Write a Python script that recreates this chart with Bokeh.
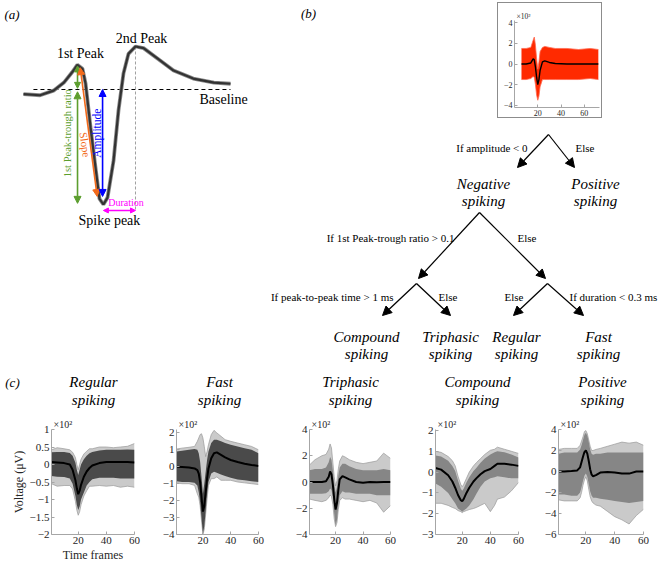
import math
from bokeh.plotting import figure
from bokeh.layouts import row, column
from bokeh.models import ColumnDataSource, Arrow, NormalHead, FixedTicker, Spacer, Range1d
from bokeh.core.properties import value
from bokeh.embed import file_html
from bokeh.resources import INLINE

SERIF = "Liberation Serif"

# ---------------- data ----------------
# (a) schematic spike waveform (time units, normalised voltage; trough = -1)
t_a = [0, 8, 14.5, 19.5, 23.5, 26, 28.5, 30, 32.4, 34.8, 36.7, 38.6, 40.6, 43.5,
       45.9, 48.3, 50.7, 54.1, 58, 64.7, 72.5, 82, 92, 100]
v_a = [-0.04, -0.05, -0.01, 0.06, 0.15, 0.215, 0.18, 0.05, -0.33, -0.68, -0.95, -1.0,
       -0.94, -0.62, -0.18, 0.14, 0.31, 0.374, 0.36, 0.27, 0.165, 0.095, 0.06, 0.05]
t_peak1, v_peak1 = 26.1, 0.215
t_trough, v_trough = 38.6, -1.0
t_peak2, v_peak2 = 54.1, 0.374

# (b) inset: all waveforms (x10^2 uV)
t_all = [6, 10, 14, 16, 17, 18, 19, 20, 21, 22, 24, 26, 30, 35, 45, 55, 65, 72]
m_all = [0.0, 0.0, 0.1, 0.5, 0.4, -0.3, -1.3, -2.0, -1.5, -0.6, 0.2, 0.3, 0.15, 0.05, 0.0, 0.0, 0.0, 0.0]
hi_all = [1.5, 1.5, 1.6, 2.3, 2.6, 1.8, 0.5, -0.5, 0.2, 1.2, 1.6, 1.7, 1.6, 1.5, 1.5, 1.4, 1.5, 1.4]
lo_all = [-1.5, -1.5, -1.4, -1.2, -1.3, -2.0, -3.0, -3.5, -3.1, -2.2, -1.5, -1.5, -1.5, -1.5, -1.5, -1.5, -1.4, -1.5]

# (c) class waveforms (x10^2 uV): mean, dense band, sparse outer traces
t_reg = [1, 5, 10, 14, 16, 18, 19, 20, 21, 22, 24, 26, 28, 30, 35, 40, 45, 50, 55, 60]
m_reg = [0.07, 0.06, 0.04, 0.0, -0.15, -0.45, -0.68, -0.85, -0.75, -0.58, -0.35, -0.2, -0.1, -0.03, 0.04, 0.07, 0.07, 0.07, 0.07, 0.06]
hi_reg = [0.35, 0.36, 0.36, 0.33, 0.25, 0.05, -0.15, -0.3, -0.15, 0.0, 0.15, 0.25, 0.32, 0.36, 0.4, 0.42, 0.42, 0.42, 0.43, 0.42]
lo_reg = [-0.33, -0.35, -0.36, -0.4, -0.55, -0.9, -1.15, -1.3, -1.2, -1.0, -0.8, -0.6, -0.5, -0.42, -0.38, -0.38, -0.38, -0.4, -0.4, -0.4]
ohi_reg = [0.42, 0.48, 0.45, 0.42, 0.35, 0.2, 0.0, -0.15, 0.0, 0.15, 0.3, 0.38, 0.45, 0.45, 0.5, 0.5, 0.48, 0.5, 0.52, 0.6]
olo_reg = [-0.55, -0.62, -0.6, -0.6, -0.7, -1.05, -1.3, -1.45, -1.35, -1.15, -0.9, -0.75, -0.62, -0.62, -0.6, -0.62, -0.6, -0.65, -0.62, -0.65]

t_fast = [1, 5, 10, 14, 16, 17, 18, 19, 20, 21, 22, 23, 24, 26, 28, 30, 33, 36, 40, 45, 50, 55, 60]
m_fast = [0.0, -0.02, -0.05, -0.1, -0.2, -0.4, -0.9, -1.8, -2.65, -2.3, -1.5, -0.7, -0.1, 0.5, 0.8, 0.85, 0.7, 0.55, 0.4, 0.28, 0.18, 0.1, 0.05]
hi_fast = [0.9, 0.95, 1.0, 1.05, 1.0, 0.8, 0.3, -0.6, -1.6, -1.0, -0.3, 0.4, 0.9, 1.4, 1.6, 1.6, 1.5, 1.4, 1.3, 1.2, 1.1, 1.0, 0.8]
lo_fast = [-0.85, -0.9, -0.9, -0.95, -1.1, -1.5, -2.1, -3.0, -3.95, -3.5, -2.6, -1.6, -0.9, -0.4, -0.3, -0.35, -0.45, -0.55, -0.65, -0.75, -0.8, -0.85, -0.9]
ohi_fast = [1.05, 1.1, 1.15, 1.2, 1.5, 1.7, 1.9, 1.95, 1.7, 1.2, 0.6, 0.9, 1.3, 1.9, 2.15, 2.0, 1.8, 1.6, 1.5, 1.4, 1.3, 1.2, 1.0]
olo_fast = [-0.95, -1.0, -1.0, -1.1, -1.6, -1.8, -2.3, -3.2, -4.0, -3.7, -2.8, -1.9, -1.1, -0.7, -0.7, -0.6, -0.8, -0.8, -0.8, -0.9, -0.95, -1.0, -1.05]

t_tri = [1, 5, 10, 13, 15, 16, 17, 18, 19, 20, 21, 22, 23, 25, 27, 30, 35, 40, 45, 50, 55, 60]
m_tri = [0.0, 0.0, 0.0, 0.05, 0.4, 0.8, 0.6, -0.2, -1.3, -2.1, -1.6, -0.6, 0.2, 0.45, 0.35, 0.2, 0.0, -0.05, 0.0, -0.02, 0.0, 0.0]
hi_tri = [0.9, 1.0, 1.0, 1.1, 1.5, 1.9, 1.7, 0.9, -0.1, -0.8, -0.4, 0.5, 1.1, 1.4, 1.4, 1.2, 1.0, 0.9, 0.9, 0.9, 1.0, 0.9]
lo_tri = [-0.9, -0.9, -0.9, -0.85, -0.7, -0.5, -0.6, -1.2, -2.4, -3.3, -2.9, -1.8, -1.0, -0.7, -0.8, -0.8, -0.9, -0.9, -0.9, -1.0, -1.0, -1.0]
ohi_tri = [1.3, 1.7, 2.0, 2.1, 2.5, 2.9, 2.6, 1.5, 0.4, -0.3, 0.1, 1.0, 1.6, 2.0, 1.9, 1.7, 1.5, 1.4, 1.5, 1.6, 2.2, 1.8]
olo_tri = [-1.3, -1.4, -1.5, -1.4, -1.2, -1.0, -1.1, -1.7, -2.8, -3.4, -3.1, -2.1, -1.4, -1.2, -1.3, -1.3, -1.4, -1.5, -1.4, -1.6, -2.3, -1.8]

t_comp = [1, 5, 10, 13, 15, 17, 19, 20, 21, 23, 25, 28, 30, 33, 36, 40, 43, 45, 50, 55, 60]
m_comp = [0.2, 0.12, -0.15, -0.45, -0.75, -1.1, -1.35, -1.4, -1.3, -1.0, -0.75, -0.45, -0.3, -0.1, 0.05, 0.15, 0.3, 0.4, 0.4, 0.36, 0.3]
hi_comp = [0.8, 0.75, 0.55, 0.3, 0.05, -0.4, -0.8, -0.9, -0.8, -0.5, -0.25, 0.05, 0.2, 0.45, 0.65, 0.85, 0.95, 1.0, 0.95, 0.85, 0.7]
lo_comp = [-0.55, -0.7, -1.0, -1.3, -1.5, -1.75, -1.85, -1.9, -1.85, -1.75, -1.6, -1.3, -1.05, -0.7, -0.45, -0.3, -0.25, -0.2, -0.25, -0.3, -0.3]
ohi_comp = [1.0, 0.95, 0.75, 0.55, 0.3, -0.2, -0.6, -0.7, -0.6, -0.3, 0.0, 0.3, 0.45, 0.65, 0.85, 1.05, 1.1, 1.2, 1.1, 1.0, 0.9]
olo_comp = [-1.5, -1.5, -1.6, -1.7, -1.75, -1.85, -1.9, -1.95, -1.9, -1.85, -1.8, -1.75, -1.7, -1.6, -1.5, -1.9, -1.6, -1.3, -1.2, -0.9, -0.5]

t_pos = [1, 5, 10, 14, 16, 17, 18, 19, 20, 21, 22, 23, 24, 25, 27, 30, 35, 40, 45, 50, 55, 60]
m_pos = [0.0, 0.0, 0.05, 0.1, 0.4, 0.9, 1.4, 1.85, 2.0, 1.7, 1.0, 0.2, -0.3, -0.45, -0.35, -0.1, -0.05, -0.1, -0.2, -0.2, 0.0, 0.0]
hi_pos = [1.7, 1.8, 1.8, 1.8, 2.1, 2.5, 3.0, 3.5, 3.7, 3.4, 2.8, 2.1, 1.7, 1.6, 1.7, 1.7, 1.8, 1.8, 1.8, 1.8, 1.8, 1.8]
lo_pos = [-2.2, -2.2, -2.3, -2.3, -2.0, -1.5, -0.9, -0.4, -0.2, -0.5, -1.2, -1.9, -2.3, -2.5, -2.5, -2.6, -2.7, -2.8, -2.9, -3.0, -2.9, -2.8]
ohi_pos = [2.1, 2.2, 2.2, 2.2, 2.5, 2.9, 3.3, 3.8, 3.9, 3.6, 3.0, 2.4, 2.0, 2.0, 2.1, 2.2, 2.4, 2.6, 2.8, 2.7, 2.8, 2.5]
olo_pos = [-2.7, -2.8, -2.8, -2.8, -2.5, -2.0, -1.3, -0.8, -0.5, -0.9, -1.7, -2.4, -2.8, -3.0, -3.2, -3.3, -3.8, -4.3, -4.6, -5.0, -4.2, -3.6]

x_ticks = [20, 40, 60]
class_names = ["Regular", "Fast", "Triphasic", "Compound", "Positive"]

# decision tree (diagram coordinates)
tree_edges = dict(
    x0=[548, 548, 479, 479, 416, 416, 547, 547],
    y0=[134, 134, 212, 212, 283, 283, 283, 283],
    x1=[517, 574, 418, 545, 382, 450, 513, 583],
    y1=[167, 167, 278, 278, 315, 315, 315, 315],
)
cond_right = dict(x=[527, 454, 393, 523], y=[147, 237, 296, 296],
                  text=["If amplitude < 0", "If 1st Peak-trough ratio > 0.1",
                        "If peak-to-peak time > 1 ms", "Else"])
cond_left = dict(x=[575, 517, 438, 569], y=[147, 237, 296, 296],
                 text=["Else", "Else", "Else", "If duration < 0.3 ms"])
leaf_names = ["Negative", "Positive", "Compound", "Triphasic", "Regular", "Fast"]
leaf_x = [483, 595, 366, 450, 516, 598]
leaf_y = [183, 183, 336, 336, 336, 336]


# ---------------- helpers ----------------
def blank(w, h, xr, yr):
    p = figure(width=w, height=h, x_range=Range1d(*xr), y_range=Range1d(*yr),
               output_backend="svg", toolbar_location=None,
               x_axis_location=None, y_axis_location=None, min_border=0)
    p.grid.visible = False
    p.outline_line_color = None
    p.background_fill_color = "white"
    p.border_fill_color = "white"
    return p


def darrow(p, x0, y0, x1, y1, c, size=6, w=1.6):
    p.add_layout(Arrow(x_start=x0, y_start=y0, x_end=x1, y_end=y1,
                       line_color=c, line_width=w,
                       start=NormalHead(size=size, fill_color=c, line_color=c),
                       end=NormalHead(size=size, fill_color=c, line_color=c)))


def style_axes(p, yticks, fs="11px"):
    p.xaxis.ticker = FixedTicker(ticks=x_ticks)
    p.yaxis.ticker = FixedTicker(ticks=yticks)
    p.yaxis.major_label_overrides = {v: (("\u2212" + f"{abs(v):g}") if v < 0 else f"{v:g}") for v in yticks}
    for ax in p.axis:
        ax.axis_line_color = "#a6a6a6"
        ax.major_tick_line_color = "#a6a6a6"
        ax.major_tick_in = 3
        ax.major_tick_out = 0
        ax.minor_tick_line_color = None
        ax.major_label_text_font = SERIF
        ax.major_label_text_font_size = fs
        ax.major_label_text_color = "#262626"
        ax.major_label_standoff = 2
        ax.axis_label_text_font = SERIF
        ax.axis_label_text_font_style = "normal"
        ax.axis_label_text_font_size = "12px"
        ax.axis_label_text_color = "#262626"
        ax.axis_label_standoff = 1
    p.grid.visible = False
    p.outline_line_color = None
    p.title.text_font = SERIF
    p.title.text_font_style = "normal"
    p.title.text_color = "#262626"
    p.title.align = "left"
    p.title.offset = 2
    p.title.standoff = 0


# ---------------- (a) ----------------
pa = blank(250, 362, (-11.11, 109.66), (-2.374, 0.774))
pa.line([4.8, t_a[-1]], [0, 0], line_color="black", line_width=1.1, line_dash="4 3")
pa.line([t_peak2, t_peak2], [v_peak2, -1.06], line_color="#a0a0a0", line_width=1, line_dash="3 2")
pa.line(t_a, v_a, line_color="#8a8a8a", line_width=3.8)
pa.line(t_a, v_a, line_color="#333333", line_width=2.2)
GREEN, ORANGE, BLUE, MAGENTA = "#5c9e2e", "#f26a1b", "#0000ff", "#ff00ff"
darrow(pa, t_peak1, v_peak1 - 0.01, t_peak1, 0.01, GREEN, size=6)
darrow(pa, t_peak1, -0.02, t_peak1, v_trough + 0.01, GREEN, size=7)
darrow(pa, 27.4, 0.19, 35.6, -0.93, ORANGE, size=7)
darrow(pa, 38.2, 0.0, 38.2, -0.93, BLUE, size=7)
darrow(pa, t_trough, -1.052, t_peak2, -1.052, MAGENTA, size=5, w=1.4)
pa.text(x=[-5.5], y=[0.652], text=["(a)"], text_font=value(SERIF), text_font_style="italic",
        text_font_size="13px", text_align="center", text_baseline="middle", text_color="black")
pa.text(x=[27.5, 57.0, 41.5], y=[0.313, 0.443, -1.139], text=["1st Peak", "2nd Peak", "Spike peak"],
        text_font=value(SERIF), text_font_size="14px", text_align="center", text_baseline="middle",
        text_color="black")
pa.text(x=[85.0], y=[-0.087], text=["Baseline"], text_font=value(SERIF), text_font_size="14px",
        text_align="left", text_baseline="middle", text_color="black")
pa.text(x=[21.3], y=[-0.38], text=["1st Peak-trough ratio"], angle=math.pi / 2,
        text_font=value(SERIF), text_font_size="10.5px", text_align="center",
        text_baseline="middle", text_color=GREEN)
pa.text(x=[35.4], y=[-0.38], text=["Amplitude"], angle=math.pi / 2,
        text_font=value(SERIF), text_font_size="11.5px", text_align="center",
        text_baseline="middle", text_color=BLUE)
pa.text(x=[29.8], y=[-0.48], text=["Slope"], angle=-1.44,
        text_font=value(SERIF), text_font_size="11px", text_align="center",
        text_baseline="middle", text_color=ORANGE)
pa.text(x=[49.5], y=[-0.985], text=["Duration"], text_font=value(SERIF), text_font_size="10px",
        text_align="center", text_baseline="middle", text_color=MAGENTA)

# ---------------- (b) ----------------
pb_lab = blank(247, 118, (250, 497), (118, 0))
pb_lab.text(x=[308], y=[13], text=["(b)"], text_font=value(SERIF), text_font_style="italic",
            text_font_size="13px", text_align="center", text_baseline="middle", text_color="black")

pin = figure(width=105, height=116, x_range=Range1d(0, 73), y_range=Range1d(-4.2, 4.2),
             output_backend="svg", toolbar_location=None, title="\u00d710\u00b2",
             min_border_left=16, min_border_right=4, min_border_top=17, min_border_bottom=12)
style_axes(pin, [-4, -2, 0, 2, 4], fs="8px")
pin.title.text_font_size = "7.5px"
pin.styles = {"border": "1px solid #8c8c8c", "box-sizing": "border-box"}
pin.varea(x=t_all, y1=lo_all, y2=hi_all, fill_color="#ff2a00")
pin.line(t_all, lo_all, line_color="#ff6a50", line_width=0.8)
pin.line(t_all, hi_all, line_color="#ff6a50", line_width=0.8)
pin.line(t_all, m_all, line_color="black", line_width=1.4)

ptree = blank(412, 244, (250, 662), (362, 118))
ptree.add_layout(Arrow(x_start="x0", y_start="y0", x_end="x1", y_end="y1",
                       source=ColumnDataSource(tree_edges), line_color="black", line_width=1.2,
                       end=NormalHead(size=9, fill_color="black", line_color="black")))
ptree.text(x="x", y="y", text="text", source=ColumnDataSource(cond_right),
           text_font=value(SERIF), text_font_size="11px", text_align="right",
           text_baseline="middle", text_color="black")
ptree.text(x="x", y="y", text="text", source=ColumnDataSource(cond_left),
           text_font=value(SERIF), text_font_size="11px", text_align="left",
           text_baseline="middle", text_color="black")
ptree.text(x=leaf_x, y=leaf_y, text=leaf_names, text_font=value(SERIF), text_font_style="italic",
           text_font_size="15px", text_align="center", text_baseline="middle", text_color="black")
ptree.text(x=leaf_x, y=[v + 17 for v in leaf_y], text=["spiking"] * len(leaf_x), text_font=value(SERIF),
           text_font_style="italic", text_font_size="15px", text_align="center",
           text_baseline="middle", text_color="black")

# ---------------- (c) ----------------
pstrip = blank(662, 48, (0, 662), (410, 362))
pstrip.text(x=[12], y=[382], text=["(c)"], text_font=value(SERIF), text_font_style="italic",
            text_font_size="13px", text_align="center", text_baseline="middle", text_color="black")
title_x = [93, 219, 350, 477, 602]
pstrip.text(x=title_x, y=[381] * 5, text=class_names, text_font=value(SERIF), text_font_style="italic",
            text_font_size="15px", text_align="center", text_baseline="middle", text_color="black")
pstrip.text(x=title_x, y=[399] * 5, text=["spiking"] * 5, text_font=value(SERIF), text_font_style="italic",
            text_font_size="15px", text_align="center", text_baseline="middle", text_color="black")


def wave_plot(lb, fw, t, m, lo, hi, olo, ohi, yr, yticks, dark, xlabel=None, ylabel=None):
    p = figure(frame_width=fw, frame_height=105, x_range=Range1d(1, 60), y_range=Range1d(*yr),
               output_backend="svg", toolbar_location=None, title="\u00d710\u00b2",
               min_border_left=lb, min_border_right=8, min_border_top=19, min_border_bottom=4)
    style_axes(p, yticks)
    p.title.text_font_size = "10px"
    if xlabel:
        p.xaxis.axis_label = xlabel
    if ylabel:
        p.yaxis.axis_label = ylabel
    p.varea(x=t, y1=olo, y2=ohi, fill_color="#cacaca")
    p.line(t, olo, line_color="#9a9a9a", line_width=0.7)
    p.line(t, ohi, line_color="#9a9a9a", line_width=0.7)
    p.varea(x=t, y1=lo, y2=hi, fill_color=dark)
    p.line(t, m, line_color="black", line_width=2)
    return p


DARK, MID = "#4a4a4a", "#868686"
p1 = wave_plot(51, 83, t_reg, m_reg, lo_reg, hi_reg, olo_reg, ohi_reg, (-2, 1),
               [-2, -1.5, -1, -0.5, 0, 0.5, 1], DARK, xlabel="Time frames", ylabel="Voltage (\u03bcV)")
p2 = wave_plot(34, 82, t_fast, m_fast, lo_fast, hi_fast, olo_fast, ohi_fast, (-4, 2.2),
               [-4, -3, -2, -1, 0, 1, 2], DARK)
p3 = wave_plot(43, 81, t_tri, m_tri, lo_tri, hi_tri, olo_tri, ohi_tri, (-4, 4),
               [-4, -2, 0, 2, 4], MID)
p4 = wave_plot(37, 83, t_comp, m_comp, lo_comp, hi_comp, olo_comp, ohi_comp, (-3, 2.05),
               [-3, -2, -1, 0, 1, 2], MID)
p5 = wave_plot(32, 85, t_pos, m_pos, lo_pos, hi_pos, olo_pos, ohi_pos, (-6, 4),
               [-6, -4, -2, 0, 2, 4], MID)

inset_col = column(Spacer(width=105, height=2), pin)
top = row(pa, column(row(pb_lab, inset_col, Spacer(width=60, height=118)), ptree))
layout = column(top, pstrip, row(p1, p2, p3, p4, p5))

open("out.html", "w").write(file_html(layout, INLINE))
